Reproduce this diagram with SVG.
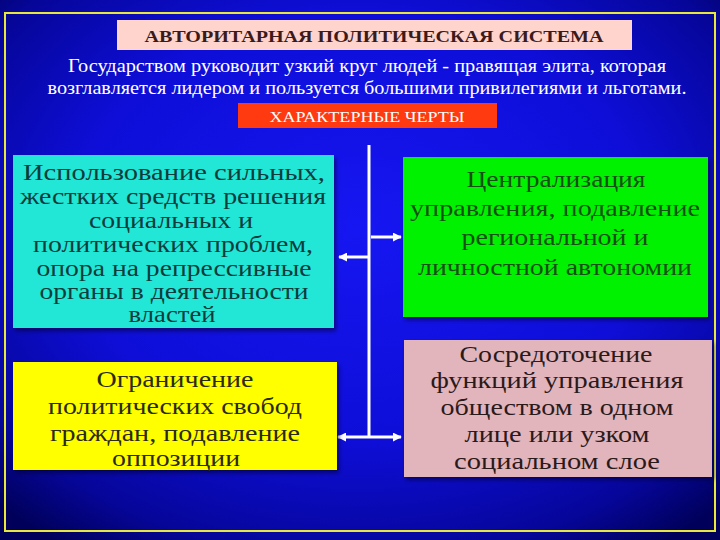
<svg xmlns="http://www.w3.org/2000/svg" width="720" height="540" viewBox="0 0 720 540">
<defs>
<radialGradient id="bg" cx="50%" cy="42%" r="72%">
<stop offset="0%" stop-color="#1616f2"/>
<stop offset="55%" stop-color="#0e0ed8"/>
<stop offset="85%" stop-color="#06069a"/>
<stop offset="100%" stop-color="#00005a"/>
</radialGradient>
<linearGradient id="rule" x1="0" x2="1" y1="0" y2="0">
<stop offset="0%" stop-color="#602040" stop-opacity="0.2"/>
<stop offset="30%" stop-color="#b04028"/>
<stop offset="70%" stop-color="#b04028"/>
<stop offset="100%" stop-color="#602040" stop-opacity="0.2"/>
</linearGradient>
<marker id="ah" viewBox="0 0 10 10" refX="9" refY="5" markerWidth="3" markerHeight="3" orient="auto-start-reverse">
<path d="M0,0 L10,5 L0,10 Z" fill="#ffffff"/>
</marker>
<filter id="sh" x="-5%" y="-5%" width="110%" height="115%">
<feDropShadow dx="2" dy="3" stdDeviation="2" flood-color="#000030" flood-opacity="0.6"/>
</filter>
</defs>
<style>
.t{font-family:"Liberation Serif","DejaVu Serif","Times New Roman",serif;text-anchor:middle}
.box{font-size:23px}
.w{fill:#ffffff}
.conn{stroke:#ffffff;stroke-width:3;fill:none}
</style>
<rect x="0" y="0" width="720" height="540" fill="url(#bg)"/>
<rect x="5" y="13" width="710" height="518" fill="none" stroke="#e8e83c" stroke-width="2"/>

<g id="title">
<rect x="117" y="20" width="515" height="30" fill="#ffd4cc"/>
<text class="t" x="374" y="42" font-size="16" font-weight="bold" fill="#3a1a1a" textLength="459" lengthAdjust="spacingAndGlyphs">АВТОРИТАРНАЯ ПОЛИТИЧЕСКАЯ СИСТЕМА</text>
</g>
<g id="subtitle">
<text class="t w" x="367" y="72" font-size="18" textLength="598" lengthAdjust="spacingAndGlyphs">Государством руководит узкий круг людей - правящая элита, которая</text>
<text class="t w" x="367" y="94" font-size="18" textLength="639" lengthAdjust="spacingAndGlyphs">возглавляется лидером и пользуется большими привилегиями и льготами.</text>
</g>
<g id="features">
<line x1="105" y1="125" x2="630" y2="125" stroke="url(#rule)" stroke-width="2"/>
<rect x="238" y="103" width="259" height="25" fill="#ff3a10"/>
<text class="t w" x="367" y="122" font-size="15" textLength="195" lengthAdjust="spacingAndGlyphs">ХАРАКТЕРНЫЕ ЧЕРТЫ</text>
</g>

<g id="connectors">
<line class="conn" x1="369" y1="145" x2="369" y2="437"/>
<line class="conn" x1="369" y1="257" x2="339" y2="257" marker-end="url(#ah)"/>
<line class="conn" x1="371" y1="237" x2="401" y2="237" marker-end="url(#ah)"/>
<line class="conn" x1="338" y1="437" x2="401" y2="437" marker-start="url(#ah)" marker-end="url(#ah)"/>
</g>

<g id="node-force">
<rect x="13" y="155" width="321" height="173" fill="#22e6d6" filter="url(#sh)"/>
<g class="t box" fill="#0c3c3c" font-size="22">
<text x="174" y="180" textLength="302" lengthAdjust="spacingAndGlyphs">Использование сильных,</text>
<text x="173" y="204" textLength="306" lengthAdjust="spacingAndGlyphs">жестких средств решения</text>
<text x="171" y="228" textLength="164" lengthAdjust="spacingAndGlyphs">социальных и</text>
<text x="173" y="252" textLength="280" lengthAdjust="spacingAndGlyphs">политических проблем,</text>
<text x="174" y="276" textLength="275" lengthAdjust="spacingAndGlyphs">опора на репрессивные</text>
<text x="174" y="299" textLength="269" lengthAdjust="spacingAndGlyphs">органы в деятельности</text>
<text x="172" y="322" textLength="87" lengthAdjust="spacingAndGlyphs">властей</text>
</g>
</g>

<g id="node-central">
<rect x="403" y="157" width="305" height="160" fill="#06f206" filter="url(#sh)"/>
<g class="t box" fill="#145014">
<text x="556" y="187" textLength="179" lengthAdjust="spacingAndGlyphs">Централизация</text>
<text x="555" y="216" textLength="290" lengthAdjust="spacingAndGlyphs">управления, подавление</text>
<text x="555" y="245" textLength="187" lengthAdjust="spacingAndGlyphs">региональной и</text>
<text x="555" y="275" textLength="274" lengthAdjust="spacingAndGlyphs">личностной автономии</text>
</g>
</g>

<g id="node-freedom">
<rect x="13" y="362" width="324" height="108" fill="#ffff00" filter="url(#sh)"/>
<g class="t box" fill="#2a2a10">
<text x="175" y="387" textLength="157" lengthAdjust="spacingAndGlyphs">Ограничение</text>
<text x="175" y="414" textLength="254" lengthAdjust="spacingAndGlyphs">политических свобод</text>
<text x="175" y="441" textLength="250" lengthAdjust="spacingAndGlyphs">граждан, подавление</text>
<text x="176" y="466" textLength="128" lengthAdjust="spacingAndGlyphs">оппозиции</text>
</g>
</g>

<g id="node-concentration">
<rect x="404" y="340" width="308" height="137" fill="#e2b4bc" filter="url(#sh)"/>
<g class="t box" fill="#2a1a1a">
<text x="556" y="362" textLength="193" lengthAdjust="spacingAndGlyphs">Сосредоточение</text>
<text x="557" y="388" textLength="253" lengthAdjust="spacingAndGlyphs">функций управления</text>
<text x="557" y="415" textLength="233" lengthAdjust="spacingAndGlyphs">обществом в одном</text>
<text x="557" y="442" textLength="185" lengthAdjust="spacingAndGlyphs">лице или узком</text>
<text x="557" y="469" textLength="206" lengthAdjust="spacingAndGlyphs">социальном слое</text>
</g>
</g>
</svg>
